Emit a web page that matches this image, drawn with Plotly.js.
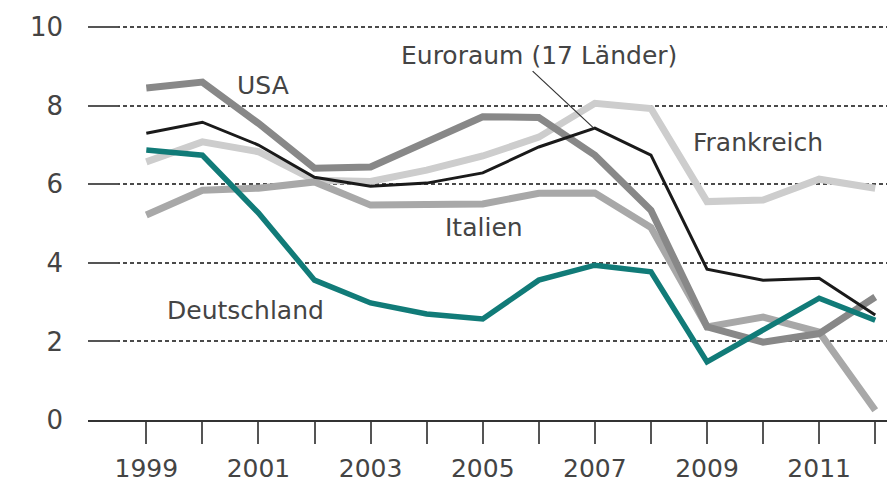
<!DOCTYPE html>
<html>
<head>
<meta charset="utf-8">
<script src="https://cdn.plot.ly/plotly-3.0.1.min.js"></script>
<style>html,body{margin:0;padding:0;background:#fff;}#chart{width:887px;height:482px;}</style>
</head>
<body>
<div id="chart"></div>
<script>
const years = [1999,2000,2001,2002,2003,2004,2005,2006,2007,2008,2009,2010,2011,2012];
const frankreich = [6.57,7.08,6.83,6.10,6.07,6.36,6.72,7.20,8.06,7.93,5.56,5.60,6.13,5.90];
const italien    = [5.22,5.85,5.90,6.06,5.47,5.47,5.50,5.77,5.78,4.90,2.37,2.62,2.24,0.25];
const usa        = [8.45,8.60,7.55,6.41,6.44,7.10,7.72,7.70,6.74,5.34,2.37,1.98,2.20,3.13];
const euroraum   = [7.30,7.58,7.00,6.18,5.95,6.03,6.29,6.95,7.43,6.74,3.84,3.56,3.61,2.67];
const deutschland= [6.87,6.74,5.27,3.56,2.98,2.70,2.57,3.56,3.94,3.77,1.48,2.27,3.10,2.54];
const xTickLabels = ["1999","","2001","","2003","","2005","","2007","","2009","","2011",""];
const yTicks = [0,2,4,6,8,10];

const FONT = "DejaVu Sans, Verdana, sans-serif";
const traces = [
  {x: years, y: frankreich, name: "Frankreich", line: {color: "#cdcdcd", width: 7}},
  {x: years, y: italien, name: "Italien", line: {color: "#a8a8a8", width: 7}},
  {x: years, y: usa, name: "USA", line: {color: "#888888", width: 7}},
  {x: years, y: euroraum, name: "Euroraum (17 Länder)", line: {color: "#1a1a1a", width: 3}},
  {x: years, y: deutschland, name: "Deutschland", line: {color: "#117b78", width: 5.5}}
].map(t => Object.assign({type: "scatter", mode: "lines", hoverinfo: "skip"}, t));

const annFont = {family: FONT, size: 25, color: "#444"};
const layout = {
  width: 887, height: 482,
  margin: {l: 88, r: 0, t: 24, b: 62, pad: 0},
  paper_bgcolor: "#fff", plot_bgcolor: "#fff",
  showlegend: false,
  xaxis: {
    range: [1997.96, 2012.21],
    tickvals: years, ticktext: xTickLabels,
    showgrid: false, zeroline: false,
    showline: true, linecolor: "#333", linewidth: 2,
    ticks: "outside", ticklen: 22, tickwidth: 2, tickcolor: "#555",
    ticklabelstandoff: 3,
    tickfont: {family: FONT, size: 25, color: "#444"}
  },
  yaxis: {
    range: [0, 10.08],
    tickvals: yTicks,
    showgrid: true, gridcolor: "#4a4a4a", gridwidth: 2, griddash: "4px,3px",
    zeroline: false, showline: false,
    ticks: "inside", ticklen: 30, tickwidth: 2, tickcolor: "#555",
    ticklabelstandoff: 24,
    tickfont: {family: FONT, size: 26, color: "#444"}
  },
  annotations: [
    {text: "USA", x: 2000.59, y: 8.52},
    {text: "Euroraum (17 Länder)", x: 2003.5, y: 9.29},
    {text: "Frankreich", x: 2008.71, y: 7.07},
    {text: "Italien", x: 2004.29, y: 4.91},
    {text: "Deutschland", x: 1999.34, y: 2.80}
  ].map(a => Object.assign({xref: "x", yref: "y", xanchor: "left", yanchor: "middle", showarrow: false, font: annFont}, a)),
  shapes: [
    {type: "line", xref: "x", yref: "y", x0: 2005.89, y0: 8.88, x1: 2006.98, y1: 7.43, line: {color: "#333", width: 1.2}}
  ]
};
Plotly.newPlot("chart", traces, layout, {displayModeBar: false, staticPlot: true});
</script>
</body>
</html>
